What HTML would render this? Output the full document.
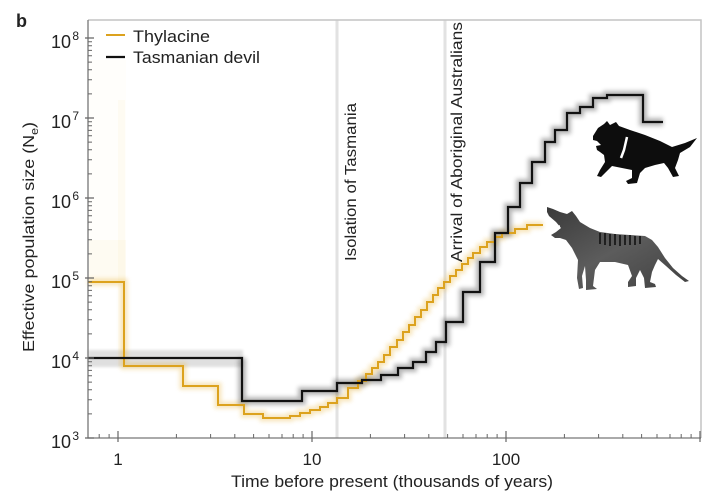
<!DOCTYPE html>
<html>
<head>
<meta charset="utf-8">
<style>
html,body{margin:0;padding:0;background:#fff;}
svg{display:block;}
text{font-family:"Liberation Sans",sans-serif;fill:#222;}
</style>
</head>
<body>
<svg width="713" height="500" viewBox="0 0 713 500" xmlns="http://www.w3.org/2000/svg">
<defs>
<filter id="blur2" x="-10%" y="-10%" width="120%" height="120%"><feGaussianBlur stdDeviation="2"/></filter>
<filter id="blur1" x="-10%" y="-10%" width="120%" height="120%"><feGaussianBlur stdDeviation="1.2"/></filter>
<linearGradient id="thyl" x1="0" y1="0" x2="1" y2="1">
<stop offset="0" stop-color="#3a3a3a"/><stop offset="0.5" stop-color="#5c5c5c"/><stop offset="1" stop-color="#404040"/>
</linearGradient>
</defs>

<text x="16" y="27" font-size="18" font-weight="bold" fill="#111">b</text>

<rect x="335.5" y="20" width="3" height="418" fill="#e2e2e2"/>
<rect x="443.5" y="20" width="3" height="418" fill="#e2e2e2"/>

<path d="M88,20 H701 V438" fill="none" stroke="#c4c4c4" stroke-width="1.5"/>

<!-- faint thylacine bootstrap traces -->
<rect x="89" y="60" width="37" height="222" fill="#f2c14e" opacity="0.025"/>
<rect x="89" y="240" width="37" height="42" fill="#f2c14e" opacity="0.05"/>
<rect x="118" y="100" width="7" height="266" fill="#f2c14e" opacity="0.05"/>

<rect x="88" y="350" width="155" height="17" fill="#999" opacity="0.3" filter="url(#blur1)"/>

<path d="M88,282 H124 V366 H183 V386 H218 V405 H244 V414 H263 V418 H290 V416 H300 V413 H310 V410 H320 V407 H328 V403 H337 V398 H348 V388 H358 V381 H366 V374 H372 V368 H378 V362 H384 V355 H390 V347 H397 V340 H403 V332 H409 V325 H415 V317 H421 V310 H427 V302 H433 V295 H438 V288 H444 V282 H450 V276 H456 V270 H462 V264 H468 V258 H473 V253 H480 V247 H487 V242 H495 V237 H502 V233 H515 V229 H527 V225 H543" fill="none" stroke="#e8b640" stroke-width="7" opacity="0.35" filter="url(#blur2)"/>
<path d="M242,358 V401 H302 V391 H337 V383 H362 V380 H381 V375 H398 V368 H413 V362 H426 V352 H436 V342 H446 V322 H463 V292 H480 V262 H495 V233 H508 V207 H520 V183 H532 V162 H545 V142 H555 V130 H567 V113 H580 V107 H593 V98 H607 V95 H643 V122 H663" fill="none" stroke="#333" stroke-width="8" opacity="0.35" filter="url(#blur2)"/>

<path d="M88,282 H124 V366 H183 V386 H218 V405 H244 V414 H263 V418 H290 V416 H300 V413 H310 V410 H320 V407 H328 V403 H337 V398 H348 V388 H358 V381 H366 V374 H372 V368 H378 V362 H384 V355 H390 V347 H397 V340 H403 V332 H409 V325 H415 V317 H421 V310 H427 V302 H433 V295 H438 V288 H444 V282 H450 V276 H456 V270 H462 V264 H468 V258 H473 V253 H480 V247 H487 V242 H495 V237 H502 V233 H515 V229 H527 V225 H543" fill="none" stroke="#dca21e" stroke-width="2"/>

<path d="M88,358 H242 V401 H302 V391 H337 V383 H362 V380 H381 V375 H398 V368 H413 V362 H426 V352 H436 V342 H446 V322 H463 V292 H480 V262 H495 V233 H508 V207 H520 V183 H532 V162 H545 V142 H555 V130 H567 V113 H580 V107 H593 V98 H607 V95 H643 V122 H663" fill="none" stroke="#111" stroke-width="2.2"/>

<path d="M88,20 V438 H701" fill="none" stroke="#777" stroke-width="1.3"/>
<path d="M85,438 H94 M85,358 H94 M85,278 H94 M85,198 H94 M85,118 H94 M85,38 H94" stroke="#666" stroke-width="1.2"/>
<path d="M88,413.9h4M88,399.8h4M88,389.8h4M88,382.1h4M88,375.8h4M88,370.4h4M88,365.8h4M88,361.7h4
M88,333.9h4M88,319.8h4M88,309.8h4M88,302.1h4M88,295.8h4M88,290.4h4M88,285.8h4M88,281.7h4
M88,253.9h4M88,239.8h4M88,229.8h4M88,222.1h4M88,215.8h4M88,210.4h4M88,205.8h4M88,201.7h4
M88,173.9h4M88,159.8h4M88,149.8h4M88,142.1h4M88,135.8h4M88,130.4h4M88,125.8h4M88,121.7h4
M88,93.9h4M88,79.8h4M88,69.8h4M88,62.1h4M88,55.8h4M88,50.4h4M88,45.8h4M88,41.7h4" stroke="#666" stroke-width="1"/>
<path d="M118,442 V431 M312,442 V431 M506,442 V431 M700,442 V431" stroke="#666" stroke-width="1.2"/>
<path d="M99.2,438v-4M109.1,438v-4
M176.4,438v-4M210.6,438v-4M234.8,438v-4M253.6,438v-4M269,438v-4M282,438v-4M293.2,438v-4M303.1,438v-4
M370.4,438v-4M404.6,438v-4M428.8,438v-4M447.6,438v-4M463,438v-4M476,438v-4M487.2,438v-4M497.1,438v-4
M564.4,438v-4M598.6,438v-4M622.8,438v-4M641.6,438v-4M657,438v-4M670,438v-4M681.2,438v-4M691.1,438v-4" stroke="#666" stroke-width="1"/>

<g font-size="18" text-anchor="end">
<text x="71" y="48">10</text><text x="79" y="40" font-size="12">8</text>
<text x="71" y="128">10</text><text x="79" y="120" font-size="12">7</text>
<text x="71" y="208">10</text><text x="79" y="200" font-size="12">6</text>
<text x="71" y="288">10</text><text x="79" y="280" font-size="12">5</text>
<text x="71" y="368">10</text><text x="79" y="360" font-size="12">4</text>
<text x="71" y="448">10</text><text x="79" y="440" font-size="12">3</text>
</g>

<g font-size="17" text-anchor="middle">
<text x="118" y="465">1</text>
<text x="312" y="465">10</text>
<text x="506" y="465">100</text>
</g>

<text x="392" y="487" font-size="17" text-anchor="middle" textLength="322" lengthAdjust="spacingAndGlyphs">Time before present (thousands of years)</text>
<text transform="translate(34,352) rotate(-90)" font-size="16" textLength="230" lengthAdjust="spacingAndGlyphs">Effective population size (N<tspan font-size="11" dy="4">e</tspan><tspan dy="-4">)</tspan></text>

<text transform="translate(356,261) rotate(-90)" font-size="16" textLength="158" lengthAdjust="spacingAndGlyphs">Isolation of Tasmania</text>
<text transform="translate(462,262) rotate(-90)" font-size="16" textLength="240" lengthAdjust="spacingAndGlyphs">Arrival of Aboriginal Australians</text>

<line x1="106" y1="35" x2="125" y2="35" stroke="#dca21e" stroke-width="2"/>
<line x1="106" y1="57" x2="125" y2="57" stroke="#111" stroke-width="2.2"/>
<text x="133" y="42" font-size="17" textLength="77" lengthAdjust="spacingAndGlyphs">Thylacine</text>
<text x="133" y="63" font-size="17" textLength="127" lengthAdjust="spacingAndGlyphs">Tasmanian devil</text>

<path d="M593,136 L598,128 L604,124 L607,121 L610,125 L616,122 L619,126 L630,130 L645,135 L660,141 L672,147 L685,143 L697,138 L690,147 L680,153 L678,160 L675,168 L679,176 L673,177 L668,168 L664,163 L655,165 L645,168 L640,173 L637,183 L628,184 L626,181 L632,178 L632,170 L622,168 L612,166 L606,172 L601,177 L597,176 L600,170 L605,162 L604,155 L600,152 L597,150 L596,146 L601,145 L597,141 L593,140 Z" fill="#0d0d0d"/>
<path d="M627,137 L624,150 L621,158" stroke="#fff" stroke-width="2.5" fill="none"/>

<path d="M547,207 L553,209 L560,212 L567,214 L572,211 L576,216 L580,222 L590,228 L600,232 L615,234 L630,235 L645,236 L652,240 L658,247 L665,258 L673,268 L682,276 L689,281 L685,282 L676,275 L666,266 L658,259 L655,265 L652,272 L650,282 L655,284 L656,287 L645,288 L644,278 L640,270 L636,278 L636,286 L628,287 L628,282 L632,276 L628,265 L615,262 L600,262 L595,270 L593,286 L597,289 L586,290 L586,280 L585,266 L582,276 L583,288 L579,289 L577,278 L578,260 L572,248 L566,240 L560,238 L555,238 L551,235 L556,232 L561,228 L556,222 L549,216 L547,212 Z" fill="url(#thyl)"/>
<path d="M600,233v11M605,233v12M610,234v12M615,234v11M620,235v11M625,235v10M630,235v10M635,236v9M640,236v8" stroke="#1a1a1a" stroke-width="1.8"/>
<path d="M552,227 L560,226" stroke="#fff" stroke-width="1.5"/>
</svg>
</body>
</html>
